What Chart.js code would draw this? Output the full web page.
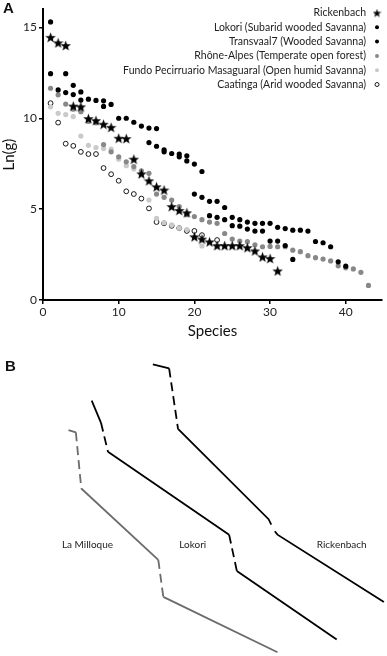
<!DOCTYPE html>
<html>
<head>
<meta charset="utf-8">
<script src="https://cdn.jsdelivr.net/npm/chart.js@4.4.1/dist/chart.umd.min.js"></script>
<style>
  html, body { margin: 0; padding: 0; background: #fff; }
  #wrap { position: relative; width: 387px; height: 656px; overflow: hidden; }
  #rankChart { position: absolute; left: 0; top: 0; }
  #shapeChart { position: absolute; left: 0; top: 340px; }
  .panel { position: absolute; font: bold 15px "Liberation Sans", Arial, sans-serif; color: #111; }
</style>
</head>
<body>
<div id="wrap">
  <canvas id="rankChart" width="387" height="340"></canvas>
  <canvas id="shapeChart" width="387" height="316"></canvas>
  <div class="panel" style="left:3px; top:-1px;">A</div>
  <div class="panel" style="left:5px; top:357px;">B</div>
</div>
<script>
// ---- Panel A: ln(abundance) by species rank (index 0 = rank 1) ----
const rickenbach = [14.45, 14.15, 14.0, 10.67, 10.63, 9.98, 9.87, 9.67, 9.5, 8.9, 8.88, 7.75, 6.94, 6.56, 6.23, 6.05,
  5.14, 4.93, 4.8, 3.48, 3.35, 3.2, 2.99, 2.99, 2.99, 2.99, 2.88, 2.7, 2.37, 2.28, 1.6]
const lokori = [15.3, null, 12.45, 11.81, 11.45, 11.05, 10.98, 10.96, 10.76, 10.0, 10.0, 9.78, 9.57, 9.46, 9.43, 8.26,
  8.06, 8.03, 7.93, 7.48, 7.07, 5.43, 5.43, 5.09, 4.55, 4.42, 4.29, 4.22, 4.22, 4.22, 4.0, 3.93, 3.84, 3.84, 3.79,
  3.22, 3.15, 2.93, 2.1, 1.86]
const transvaal = [12.45, 11.56, 11.41, 11.3, 11.0, null, null, 10.65, null, null, null, null, null, 8.66, 8.46, 8.15,
  null, 7.88, 7.65, 5.83, 5.65, 4.64, 4.55, 4.42, 4.09, 4.06, 3.9, 3.79, 3.79, 3.24, 3.24, 3.0, 2.23]
const rhoneAlpes = [11.65, 11.29, 10.78, 10.5, 10.36, 9.82, 9.75, 8.55, 8.15, 7.88, 7.6, 7.34, 7.1, 6.97, 5.83, 5.65,
  5.5, 5.14, 4.69, 4.59, 4.42, 4.29, 4.22, 3.66, 3.35, 3.24, 3.21, 3.04, 2.93, 2.95, 2.93, 2.93, 2.74, 2.66, 2.44,
  2.33, 2.25, 2.15, 1.88, 1.77, 1.71, 1.52, 0.8]
const fundo = [10.63, 10.27, 10.2, 10.09, 9.02, 8.51, 8.39, 8.33, 8.3, 7.75, 7.39, 7.21, null, 5.5, 4.49, 4.25, 4.13,
  3.95, 3.88, null, 2.97]
const caatinga = [10.83, 9.76, 8.6, 8.48, 8.15, 8.03, 8.03, 7.26, 6.92, 6.56, 5.98, 5.83, 5.58, 5.04, 4.29, 4.22, 4.08,
  3.95, 3.8, 3.8, 3.57, null, 3.3]

const seriesLabels = [
  'Rickenbach',
  'Lokori (Subarid wooded Savanna)',
  'Transvaal7 (Wooded Savanna)',
  'Rhône-Alpes (Temperate open forest)',
  'Fundo Pecirruario Masaguaral (Open humid Savanna)',
  'Caatinga (Arid wooded Savanna)',
]
const xTicks = [0, 10, 20, 30, 40]
const yTicks = [0, 5, 10, 15]

// ---- Panel B: schematic curves (x, y in 0-100 units) ----
const milloqueX = [17.7, 19.6, 21.0, 40.9, 42.2, 71.7]
const milloqueY = [71.5, 70.8, 53.0, 30.4, 18.7, 1.2]
const milloqueSeg = ['solid', 'dash', 'solid', 'dash', 'solid']
const lokoriX = [23.7, 26.1, 27.9, 59.2, 61.2, 87.0]
const lokoriY = [80.8, 73.8, 64.6, 38.4, 26.9, 5.2]
const lokoriSeg = ['solid', 'dash', 'solid', 'dash', 'solid']
const rickX = [39.5, 43.7, 46.0, 69.4, 70.1, 71.0, 71.7, 99.2]
const rickY = [92.3, 91.0, 71.9, 43.3, 41.6, 39.5, 38.4, 17.1]
const rickSeg = ['solid', 'dash', 'solid', 'solid', 'gap', 'solid', 'solid']
const curveNames = ['La Milloque', 'Lokori', 'Rickenbach']
const curveNameX = [22.6, 49.8, 88.3]
const curveNameY = [35.3, 35.3, 35.3]

function toPoints(values) {
  const pts = []
  values.forEach((v, i) => { if (v !== null) pts.push({ x: i + 1, y: v }) })
  return pts
}

function zipPoints(xs, ys) {
  return xs.map((x, i) => ({ x: x, y: ys[i] }))
}

function makeStar(size) {
  const c = document.createElement('canvas')
  c.width = size
  c.height = size
  const g = c.getContext('2d')
  const cx = size / 2, cy = size / 2 + size * 0.05
  const outer = size / 2, inner = outer * 0.42
  g.beginPath()
  for (let i = 0; i < 10; i++) {
    const r = i % 2 === 0 ? outer : inner
    const a = -Math.PI / 2 + i * Math.PI / 5
    const px = cx + r * Math.cos(a), py = cy + r * Math.sin(a)
    if (i === 0) g.moveTo(px, py)
    else g.lineTo(px, py)
  }
  g.closePath()
  g.fillStyle = '#000'
  g.fill()
  return c
}

const bigStar = makeStar(11)
const smallStar = makeStar(9)

const keepTicks = (list) => (scale) => {
  scale.ticks = list.map(v => ({ value: v }))
}

// draws the legend in the top right corner, text right aligned, marker to the right
const rightLegend = {
  id: 'rightLegend',
  afterDraw(chart) {
    const ctx = chart.ctx
    ctx.save()
    ctx.font = '10.5px Lato'
    ctx.textAlign = 'right'
    ctx.textBaseline = 'middle'
    chart.data.datasets.forEach((ds, i) => {
      const y = 13 + i * 14.3
      ctx.fillStyle = '#222'
      ctx.fillText(ds.label, 366, y)
      ctx.fillStyle = ds.backgroundColor
      ctx.strokeStyle = ds.borderColor
      ctx.lineWidth = ds.borderWidth
      const style = i === 0 ? smallStar : 'circle'
      Chart.helpers.drawPoint(ctx, { pointStyle: style, radius: 2, rotation: 0, borderWidth: ds.borderWidth }, 377, y)
    })
    ctx.restore()
  }
}

const rankChart = new Chart(document.getElementById('rankChart'), {
  type: 'scatter',
  data: {
    datasets: [
      { label: seriesLabels[0], data: toPoints(rickenbach), pointStyle: bigStar, backgroundColor: '#000', borderColor: '#000', borderWidth: 0 },
      { label: seriesLabels[1], data: toPoints(lokori), pointStyle: 'circle', pointRadius: 2.6, backgroundColor: '#000', borderColor: '#000', borderWidth: 0 },
      { label: seriesLabels[2], data: toPoints(transvaal), pointStyle: 'circle', pointRadius: 2.6, backgroundColor: '#000', borderColor: '#000', borderWidth: 0 },
      { label: seriesLabels[3], data: toPoints(rhoneAlpes), pointStyle: 'circle', pointRadius: 2.6, backgroundColor: '#888', borderColor: '#888', borderWidth: 0 },
      { label: seriesLabels[4], data: toPoints(fundo), pointStyle: 'circle', pointRadius: 2.6, backgroundColor: '#cacaca', borderColor: '#cacaca', borderWidth: 0 },
      { label: seriesLabels[5], data: toPoints(caatinga), pointStyle: 'circle', pointRadius: 2.4, backgroundColor: '#fff', borderColor: '#000', borderWidth: 0.9 },
    ]
  },
  options: {
    responsive: false,
    animation: false,
    layout: { padding: { top: 5, right: 3, left: 0, bottom: 0 } },
    plugins: { legend: { display: false }, tooltip: { enabled: false } },
    scales: {
      x: {
        min: 0, max: 44.8,
        afterBuildTicks: keepTicks(xTicks),
        afterFit: (s) => { s.height = 40 },
        grid: { drawOnChartArea: false, drawTicks: true, tickLength: 4, color: '#000', lineWidth: 1.5 },
        border: { display: true, color: '#000', width: 2 },
        ticks: { color: '#222', font: { family: 'Lato', size: 12 }, padding: 1, maxRotation: 0 },
        title: { display: true, text: 'Species', color: '#111', font: { family: 'Lato', size: 15 }, padding: { top: 0, bottom: 0 } }
      },
      y: {
        min: 0, max: 16,
        afterBuildTicks: keepTicks(yTicks),
        afterFit: (s) => { s.width = 43 },
        grid: { drawOnChartArea: false, drawTicks: true, tickLength: 4, color: '#000', lineWidth: 1.5 },
        border: { display: true, color: '#000', width: 2 },
        ticks: { color: '#222', font: { family: 'Lato', size: 12 }, padding: 2 },
        title: { display: true, text: 'Ln(g)', color: '#111', font: { family: 'Lato', size: 15 }, padding: { top: 0, bottom: 0 } }
      }
    }
  },
  plugins: [rightLegend]
})

// writes the curve names below/beside the lines
const curveLabels = {
  id: 'curveLabels',
  afterDraw(chart) {
    const ctx = chart.ctx
    const xs = chart.scales.x, ys = chart.scales.y
    ctx.save()
    ctx.font = '10px Lato'
    ctx.fillStyle = '#222'
    ctx.textAlign = 'center'
    ctx.textBaseline = 'middle'
    curveNames.forEach((name, i) => {
      ctx.fillText(name, xs.getPixelForValue(curveNameX[i]), ys.getPixelForValue(curveNameY[i]))
    })
    ctx.restore()
  }
}

function curveDataset(xs, ys, segs, color) {
  return {
    data: zipPoints(xs, ys),
    showLine: true,
    borderColor: color,
    borderWidth: 1.8,
    pointRadius: 0,
    tension: 0,
    fill: false,
    segment: {
      borderDash: (c) => segs[c.p0DataIndex] === 'dash' ? [9, 5] : undefined,
      borderColor: (c) => segs[c.p0DataIndex] === 'gap' ? 'rgba(0,0,0,0)' : undefined,
    }
  }
}

const shapeChart = new Chart(document.getElementById('shapeChart'), {
  type: 'scatter',
  data: {
    datasets: [
      curveDataset(milloqueX, milloqueY, milloqueSeg, '#6b6b6b'),
      curveDataset(lokoriX, lokoriY, lokoriSeg, '#000'),
      curveDataset(rickX, rickY, rickSeg, '#000'),
    ]
  },
  options: {
    responsive: false,
    animation: false,
    layout: { padding: 0 },
    plugins: { legend: { display: false }, tooltip: { enabled: false } },
    scales: {
      x: { display: false, min: 0, max: 100 },
      y: { display: false, min: 0, max: 100 }
    }
  },
  plugins: [curveLabels]
})
</script>
</body>
</html>
